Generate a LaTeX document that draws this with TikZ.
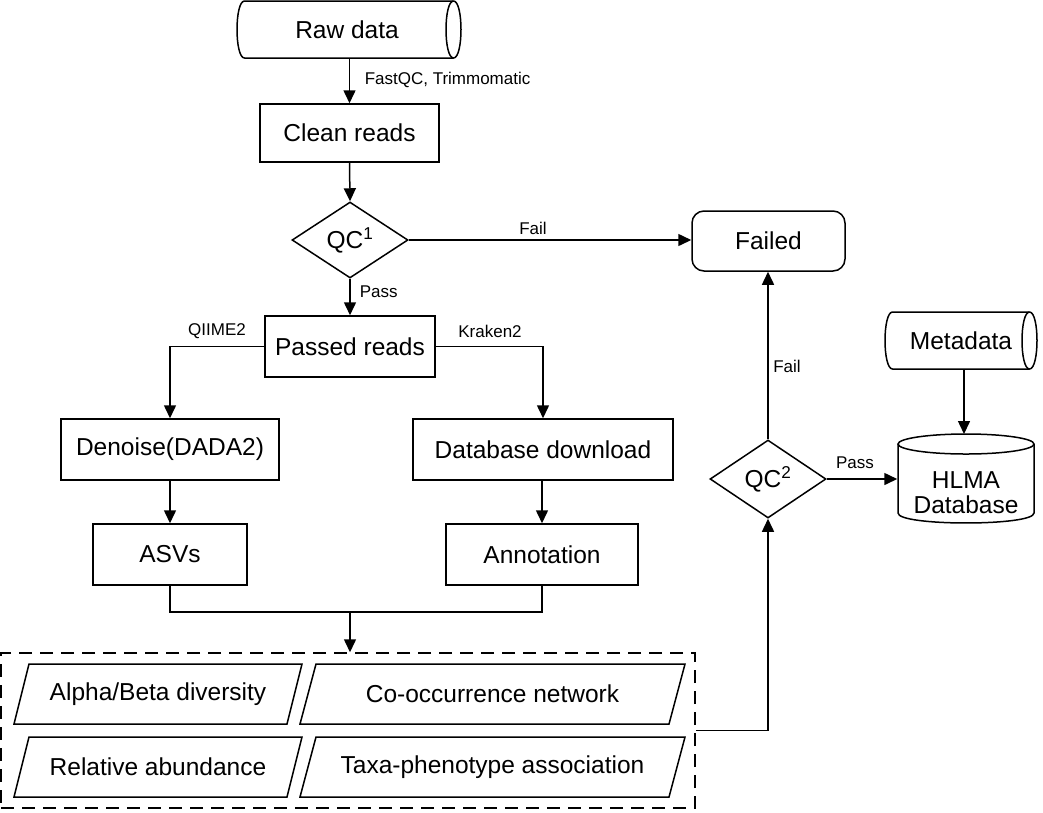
\documentclass[tikz,border=0pt]{standalone}
\usepackage{fontspec}
\setmainfont{Liberation Sans}
\usetikzlibrary{shapes.geometric,arrows.meta}
\newcommand\mainsz{\fontsize{24.5}{25}\selectfont}
\newcommand\lblsz{\fontsize{17}{19}\selectfont}
\begin{document}
\begin{tikzpicture}[x=1pt,y=-1pt,line width=1.5pt,
  box/.style={draw,rectangle,inner sep=0pt,font=\mainsz},
  plain/.style={rectangle,inner sep=0pt,font=\mainsz},
  dia/.style={draw,diamond,inner sep=0pt,font=\mainsz},
  lbl/.style={inner sep=0pt,font=\lblsz},
  arr/.style={-{Triangle[length=13pt,width=12pt]}},
  dashbox/.style={draw,rectangle,inner sep=0pt,dash pattern=on 13pt off 8pt}]
\useasboundingbox (0,0) rectangle (1043,812);

% Raw data cylinder
\node[plain,minimum width=224pt,minimum height=57pt] (raw) at (347,29.5) {Raw data};
\draw (244.5,1) -- (453.5,1) .. controls (463.5,1) and (463.5,58) .. (453.5,58)
  -- (244.5,58) .. controls (234.5,58) and (234.5,1) .. (244.5,1) -- cycle;
\draw (453.5,1) .. controls (443.5,1) and (443.5,58) .. (453.5,58);

\node[box,minimum width=179pt,minimum height=58pt] (clean) at (349.5,133) {Clean reads};
\node[dia,minimum width=116pt,minimum height=76pt] (qc1) at (350,240) {QC\textsuperscript{1}};
\node[draw,rectangle,rounded corners=12pt,inner sep=0pt,font=\mainsz,minimum width=153pt,minimum height=60pt] (failed) at (768.5,241) {Failed};
\node[box,minimum width=170pt,minimum height=61pt] (passed) at (350,346.5) {Passed reads};
\node[box,minimum width=218pt,minimum height=61pt] (denoise) at (170,449.5) {Denoise(DADA2)};
\node[box,minimum width=260pt,minimum height=61pt] (dbdl) at (543,449.5) {Database download};
\node[box,minimum width=154pt,minimum height=61pt] (asvs) at (170,554.5) {ASVs};
\node[box,minimum width=192pt,minimum height=61pt] (annot) at (542,554.5) {Annotation};

% Analysis dashed box
\node[dashbox,minimum width=694pt,minimum height=155pt] (analysis) at (348,730.5) {};
\node[plain] (p1) at (158,694) {Alpha/Beta diversity};
\node[plain] (p2) at (492.5,694) {Co-occurrence network};
\node[plain] (p3) at (158,767) {Relative abundance};
\node[plain] (p4) at (492.5,767) {Taxa-phenotype association};
\draw (14,724) -- (29,664) -- (302,664) -- (287,724) -- cycle;
\draw (300,724) -- (316,664) -- (685,664) -- (669,724) -- cycle;
\draw (14,797) -- (29,737) -- (302,737) -- (287,797) -- cycle;
\draw (300,797) -- (316,737) -- (685,737) -- (669,797) -- cycle;

% QC2
\node[dia,minimum width=116pt,minimum height=78pt] (qc2) at (768,479) {QC\textsuperscript{2}};

% Metadata cylinder
\node[plain,minimum width=152pt,minimum height=57pt] (meta) at (961,340.5) {Metadata};
\coordinate (metabot) at (964,369);
\draw (892.5,312) -- (1029.5,312) .. controls (1039.5,312) and (1039.5,369) .. (1029.5,369)
  -- (892.5,369) .. controls (882.5,369) and (882.5,312) .. (892.5,312) -- cycle;
\draw (1029.5,312) .. controls (1019.5,312) and (1019.5,369) .. (1029.5,369);

% HLMA Database cylinder
\node[plain,align=center,minimum width=136pt,minimum height=62pt] (hlma) at (966,493) {HLMA\\Database};
\coordinate (hlmatop) at (966,434);
\draw (966,444) ellipse[x radius=68, y radius=10];
\draw (898,444) -- (898,513) .. controls (898,526.3) and (1034,526.3) .. (1034,513) -- (1034,444);

% Connectors
\draw[arr] (raw.south -| clean.north) -- (clean.north);
\node[lbl,anchor=west] (lfast) at (364,80) {FastQC, Trimmomatic};
\draw[arr] (clean.south) -- (qc1.north);
\draw[arr] (qc1.east) -- (qc1.east -| failed.west);
\node[lbl] (lfail1) at (533,228) {Fail};
\draw[arr] (qc1.south) -- (passed.north);
\node[lbl,anchor=west] (lpass1) at (359,292) {Pass};
\draw[arr] (passed.west) -| (denoise.north);
\node[lbl] (lqiime) at (217,331) {QIIME2};
\draw[arr] (passed.east) -| (dbdl.north);
\node[lbl] (lkraken) at (490,331) {Kraken2};
\draw[arr] (denoise.south) -- (asvs.north);
\draw[arr] (dbdl.south -| annot.north) -- (annot.north);
\coordinate (m) at (350,612);
\draw (asvs.south) -- (asvs.south |- m) -- (annot.south |- m) -- (annot.south);
\draw[arr] (m) -- (m |- analysis.north);
\draw[arr] (analysis.east) -| (qc2.south);
\draw[arr] (qc2.north) -- (qc2.north |- failed.south);
\node[lbl] (lfail2) at (787,366) {Fail};
\draw[arr] (qc2.east) -- (qc2.east -| hlma.west);
\node[lbl] (lpass2) at (855,463) {Pass};
\draw[arr] (metabot) -- (metabot |- hlmatop);
\end{tikzpicture}
\end{document}
